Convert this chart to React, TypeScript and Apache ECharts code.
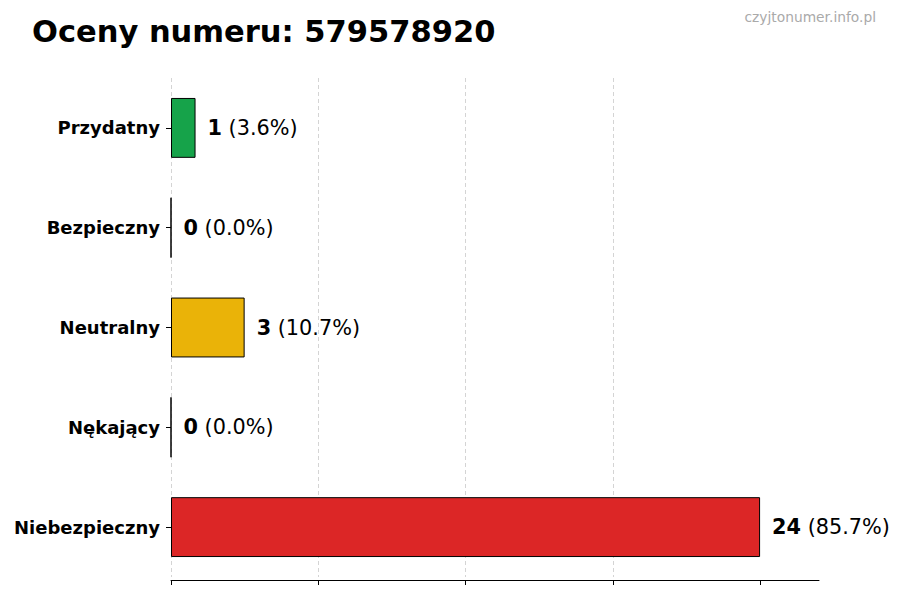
import React, { useEffect, useRef } from 'react';
import * as echarts from 'echarts';

const CATEGORIES = ['Przydatny', 'Bezpieczny', 'Neutralny', 'Nękający', 'Niebezpieczny'];
const COUNTS = [1, 0, 3, 0, 24];
const COLORS = ['#16a34a', '#6b7280', '#eab308', '#9333ea', '#dc2626'];
const X_TICKS = [0, 6, 12, 18, 24];
const X_MAX = 26.4;
const TITLE = 'Oceny numeru: 579578920';
const WATERMARK = 'czyjtonumer.info.pl';

const FONT = '"DejaVu Sans", sans-serif';

export default function App() {
  const chartRef = useRef<HTMLDivElement>(null);

  useEffect(() => {
    document.body.style.margin = '0';
    if (!chartRef.current) return;
    const chart = echarts.init(chartRef.current, null, { renderer: 'svg' });

    const total = COUNTS.reduce((a, b) => a + b, 0);

    // category axis is inverted so first item sits on top
    const option = {
      animation: false,
      backgroundColor: '#ffffff',
      textStyle: { fontFamily: FONT },
      graphic: [
        {
          type: 'text',
          left: 32,
          top: 16,
          style: {
            text: TITLE,
            font: `bold 30.5px ${FONT}`,
            fill: '#000',
          },
        },
        {
          type: 'text',
          right: 24,
          top: 10,
          style: {
            text: WATERMARK,
            font: `13.8px ${FONT}`,
            fill: '#aaaaaa',
          },
        },
      ],
      grid: {
        left: 171,
        right: 81,
        top: 78,
        bottom: 23,
        containLabel: false,
      },
      xAxis: {
        type: 'value',
        min: 0,
        max: X_MAX,
        interval: 6,
        offset: 3,
        axisLine: { show: true, lineStyle: { color: '#000', width: 1 } },
        axisTick: {
          show: true,
          length: 5,
          customValues: X_TICKS,
          lineStyle: { color: '#000' },
        },
        axisLabel: { show: false },
        splitLine: {
          show: true,
          showMaxLine: false,
          lineStyle: { color: '#d4d4d4', type: [4, 3], width: 1 },
        },
      },
      yAxis: {
        type: 'category',
        inverse: true,
        data: CATEGORIES,
        axisLine: { show: false },
        axisTick: {
          show: true,
          alignWithLabel: true,
          length: 5,
          lineStyle: { color: '#000' },
        },
        axisLabel: {
          margin: 11,
          color: '#000',
          fontWeight: 'bold',
          fontSize: 18,
          fontFamily: FONT,
        },
        splitLine: { show: false },
      },
      series: [
        {
          type: 'bar',
          barWidth: '60%',
          data: COUNTS.map((v, i) => ({
            value: v,
            itemStyle: { color: COLORS[i] },
          })),
          itemStyle: { borderColor: '#000', borderWidth: 1 },
          label: {
            show: true,
            position: 'right',
            distance: 12,
            formatter: (p: any) =>
              `{b|${p.value}}{n| (${((p.value / total) * 100).toFixed(1)}%)}`,
            rich: {
              b: { fontWeight: 'bold', fontSize: 20.8, color: '#000', fontFamily: FONT },
              n: { fontSize: 20.8, color: '#000', fontFamily: FONT },
            },
          },
        },
      ],
    };

    chart.setOption(option as any);
    return () => {
      chart.dispose();
    };
  }, []);

  return <div ref={chartRef} style={{ width: '900px', height: '600px' }} />;
}
